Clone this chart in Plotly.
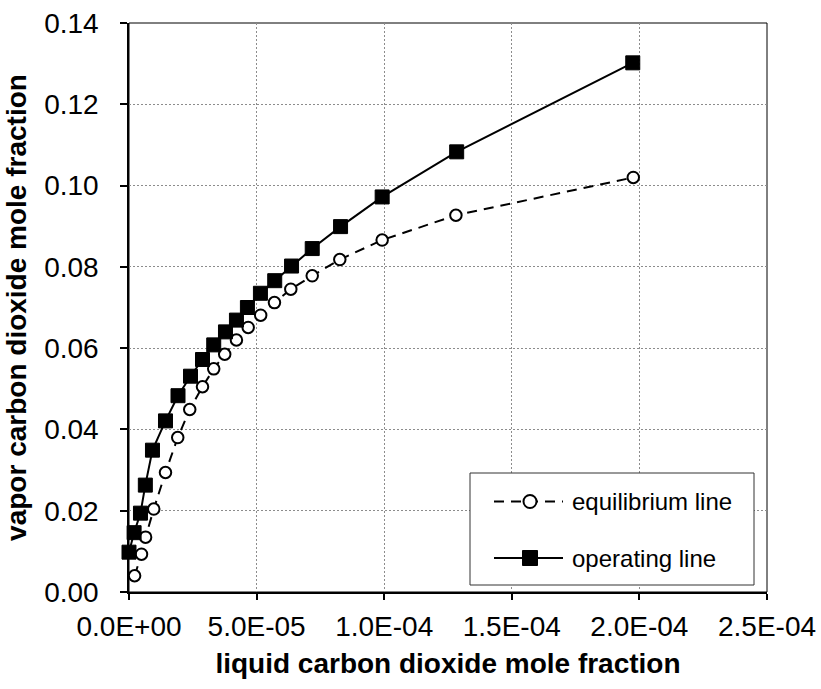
import plotly.graph_objects as go

# Equilibrium line (open circles, dashed)
eq_x = [2.2e-6, 4.9e-6, 6.5e-6, 9.7e-6, 1.43e-5, 1.91e-5, 2.38e-5, 2.88e-5, 3.32e-5,
        3.75e-5, 4.21e-5, 4.67e-5, 5.16e-5, 5.70e-5, 6.34e-5, 7.18e-5, 8.26e-5,
        9.92e-5, 1.281e-4, 1.976e-4]
eq_y = [0.0040, 0.0093, 0.0135, 0.0204, 0.0294, 0.0380, 0.0449, 0.0505, 0.0549,
        0.0585, 0.0620, 0.0651, 0.0681, 0.0712, 0.0745, 0.0778, 0.0818,
        0.0866, 0.0927, 0.1020]

# Operating line (filled squares, solid)
op_x = [0.0, 2.0e-6, 4.5e-6, 6.4e-6, 9.2e-6, 1.43e-5, 1.92e-5, 2.41e-5, 2.88e-5,
        3.32e-5, 3.78e-5, 4.21e-5, 4.64e-5, 5.15e-5, 5.71e-5, 6.37e-5, 7.18e-5,
        8.29e-5, 9.92e-5, 1.284e-4, 1.974e-4]
op_y = [0.0098, 0.0146, 0.0194, 0.0263, 0.0349, 0.0421, 0.0483, 0.0531, 0.0572,
        0.0608, 0.0640, 0.0669, 0.0700, 0.0735, 0.0766, 0.0802, 0.0845,
        0.0899, 0.0972, 0.1083, 0.1302]

series_names = ["equilibrium line", "operating line"]

x_tickvals = [0.0, 5e-5, 1e-4, 1.5e-4, 2e-4, 2.5e-4]
x_ticktext = ["0.0E+00", "5.0E-05", "1.0E-04", "1.5E-04", "2.0E-04", "2.5E-04"]
y_tickvals = [0.0, 0.02, 0.04, 0.06, 0.08, 0.10, 0.12, 0.14]
y_ticktext = ["0.00", "0.02", "0.04", "0.06", "0.08", "0.10", "0.12", "0.14"]

FONT = "Liberation Sans, Arial, sans-serif"
W, H = 821, 689
ML, MR, MT, MB = 129, 54, 23, 97
PW, PH = W - ML - MR, H - MT - MB


def px(xp):
    return (xp - ML) / PW


def py(yp):
    return (H - MB - yp) / PH


EQ_DASH = "10px,7px"

fig = go.Figure()
fig.add_trace(go.Scatter(
    x=eq_x, y=eq_y, mode="lines+markers", name=series_names[0],
    line=dict(color="black", width=2, dash=EQ_DASH),
    marker=dict(symbol="circle", size=11.5, color="white",
                line=dict(color="black", width=2)),
    cliponaxis=False, showlegend=False,
))
fig.add_trace(go.Scatter(
    x=op_x, y=op_y, mode="lines+markers", name=series_names[1],
    line=dict(color="black", width=2),
    marker=dict(symbol="square", size=14, color="black",
                line=dict(color="black", width=1)),
    cliponaxis=False, showlegend=False,
))

# Legend box drawn in paper coordinates
shapes = [
    dict(type="rect", xref="paper", yref="paper", x0=0, y0=0, x1=1, y1=1,
         line=dict(color="black", width=1), layer="below"),
    dict(type="rect", xref="paper", yref="paper",
         x0=px(470), x1=px(754), y0=py(585), y1=py(473),
         line=dict(color="#333", width=1), fillcolor="white", layer="above"),
]
rows = [501.5, 558]
for i, yr in enumerate(rows):
    shapes.append(dict(type="line", xref="paper", yref="paper",
                       x0=px(494), x1=px(563), y0=py(yr), y1=py(yr),
                       line=dict(color="black", width=2,
                                 dash=EQ_DASH if i == 0 else "solid")))
cx = 530
r = 6.5
shapes.append(dict(type="circle", xref="paper", yref="paper",
                   x0=px(cx - r), x1=px(cx + r), y0=py(rows[0] + r), y1=py(rows[0] - r),
                   line=dict(color="black", width=2), fillcolor="white"))
s = 7.5
shapes.append(dict(type="rect", xref="paper", yref="paper",
                   x0=px(cx - s), x1=px(cx + s), y0=py(rows[1] + s), y1=py(rows[1] - s),
                   line=dict(color="black", width=1), fillcolor="black"))

annotations = []
for name, yr in zip(series_names, rows):
    annotations.append(dict(text=name, xref="paper", yref="paper",
                            x=px(570), y=py(yr), xanchor="left", yanchor="middle",
                            showarrow=False,
                            font=dict(family=FONT, size=24, color="black")))

fig.update_layout(
    width=W, height=H,
    margin=dict(l=ML, r=MR, t=MT, b=MB, autoexpand=False),
    paper_bgcolor="white", plot_bgcolor="white",
    font=dict(family=FONT, size=28, color="black"),
    showlegend=False,
    shapes=shapes,
    annotations=annotations,
)
fig.update_xaxes(
    range=[0, 2.5e-4], tickvals=x_tickvals, ticktext=x_ticktext,
    showline=True, linecolor="black", linewidth=1.5,
    ticks="outside", ticklen=6, tickcolor="black", tickwidth=1.5,
    showgrid=True, gridcolor="#8c8c8c", griddash="2px,2px", gridwidth=1,
    zeroline=False, ticklabelstandoff=3, automargin=False,
    tickfont=dict(family=FONT, size=28),
    title=dict(text="<b>liquid carbon dioxide mole fraction</b>",
               font=dict(family=FONT, size=28), standoff=12),
)
fig.update_yaxes(
    range=[0, 0.14], tickvals=y_tickvals, ticktext=y_ticktext,
    showline=True, linecolor="black", linewidth=1.5,
    ticks="outside", ticklen=7, tickcolor="black", tickwidth=1.5,
    showgrid=True, gridcolor="#8c8c8c", griddash="2px,2px", gridwidth=1,
    zeroline=False, ticklabelstandoff=16, automargin=False,
    tickfont=dict(family=FONT, size=28),
    title=dict(text="<b>vapor carbon dioxide mole fraction</b>",
               font=dict(family=FONT, size=28), standoff=9),
)

fig.write_html("out.html")
